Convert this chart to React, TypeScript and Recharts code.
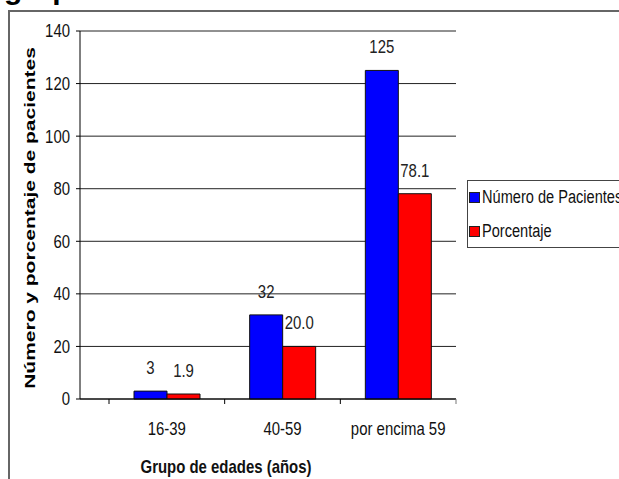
import React from 'react';
import { BarChart, Bar, XAxis, YAxis, CartesianGrid, Legend, LabelList, Label } from 'recharts';

// Age groups and the two series shown per group
const grupos = ['16-39', '40-59', 'por encima 59'];
const pacientes = [3, 32, 125];
const porcentaje = [1.9, 20.0, 78.1];
const yTicks = [0, 20, 40, 60, 80, 100, 120, 140];

const data = grupos.map((grupo, i) => ({
  grupo,
  pacientes: pacientes[i],
  porcentaje: porcentaje[i],
}));

const SANS = "'Liberation Sans', Arial, sans-serif";
const NARROW_SCALE = 0.83;
const FONT_SIZE = 18;

const TICK_SIZE = 5;
const TICK_MARGIN = 18;

// Liberation Sans squeezed horizontally to get a narrow face
function NarrowText(props: any) {
  const { x, y, anchor = 'middle', size = FONT_SIZE, bold = false, dy, fill = '#111', children } = props;
  return (
    <text
      transform={`translate(${x},${y}) scale(${NARROW_SCALE},1)`}
      x={0}
      y={0}
      dy={dy}
      textAnchor={anchor}
      fill={fill}
      style={{ fontFamily: SANS, fontSize: size, fontWeight: bold ? 700 : 400 }}
    >
      {children}
    </text>
  );
}

// Category tick: tick marks sit on band boundaries, label in the band centre
function XTick(props: any) {
  const { x, y, payload, index, visibleTicksCount } = props;
  const half = payload && typeof payload.offset === 'number' ? payload.offset : 0;
  const axisY = y - TICK_SIZE - TICK_MARGIN;
  return (
    <g>
      <line x1={x - half} x2={x - half} y1={axisY} y2={axisY + TICK_SIZE} stroke="#000" />
      {index === visibleTicksCount - 1 && (
        <line x1={x + half} x2={x + half} y1={axisY} y2={axisY + TICK_SIZE} stroke="#777" />
      )}
      <NarrowText x={x} y={y} dy="0.71em">
        {payload.value}
      </NarrowText>
    </g>
  );
}

function YTick(props: any) {
  const { x, y, payload } = props;
  return (
    <NarrowText x={x} y={y} dy="0.355em" anchor="end">
      {payload.value}
    </NarrowText>
  );
}

function YTitle(props: any) {
  const { viewBox } = props;
  const cx = viewBox.x + 20;
  const cy = viewBox.y + viewBox.height / 2 + 3;
  return (
    <text
      transform={`translate(${cx},${cy}) rotate(-90) scale(1,0.7)`}
      x={0}
      y={0}
      dy="0.36em"
      textAnchor="middle"
      fill="#000"
      style={{ fontFamily: SANS, fontWeight: 700, fontSize: 21 }}
    >
      Número y porcentaje de pacientes
    </text>
  );
}

function XTitle(props: any) {
  const { viewBox } = props;
  const cx = viewBox.x + viewBox.width / 2 - 42;
  const by = viewBox.y + 74;
  return (
    <NarrowText x={cx} y={by} size={18} bold>
      Grupo de edades (años)
    </NarrowText>
  );
}

function ValueLabel(props: any) {
  const { x, y, width, value, digits } = props;
  const text = digits ? Number(value).toFixed(digits) : String(value);
  return (
    <NarrowText x={x + width / 2} y={y - 17} fill="#222">
      {text}
    </NarrowText>
  );
}

function LegendBox(props: any) {
  const { payload } = props;
  return (
    <div
      style={{
        border: '1px solid #444',
        width: 170,
        height: 68,
        boxSizing: 'border-box',
        background: '#fff',
        position: 'relative',
      }}
    >
      {(payload || []).map((item: any, i: number) => (
        <div
          key={item.value}
          style={{
            position: 'absolute',
            left: 1,
            top: 3 + i * 34,
            height: 26,
            display: 'flex',
            alignItems: 'center',
            whiteSpace: 'nowrap',
          }}
        >
          <span
            style={{
              display: 'inline-block',
              flexShrink: 0,
              width: 9,
              height: 9,
              background: item.color,
              border: '1px solid #222',
              marginRight: 2,
            }}
          />
          <span
            style={{
              display: 'inline-block',
              transform: 'scaleX(0.81)',
              transformOrigin: 'left center',
              fontFamily: SANS,
              fontSize: FONT_SIZE,
              color: '#111',
            }}
          >
            {item.value}
          </span>
        </div>
      ))}
    </div>
  );
}

export default function App() {
  return (
    <div
      style={{
        position: 'absolute',
        left: 0,
        top: 0,
        width: 619,
        height: 479,
        overflow: 'hidden',
        background: '#fff',
      }}
    >
      <svg width={619} height={20} style={{ position: 'absolute', left: 0, top: 0 }}>
        <text x={4} y={-1} style={{ fontFamily: SANS, fontWeight: 700, fontSize: 30 }} fill="#000">
          grupo de edades
        </text>
      </svg>
      <div
        style={{
          position: 'absolute',
          left: 8,
          top: 10,
          width: 700,
          height: 500,
          borderTop: '2px solid #666',
          borderLeft: '2px solid #666',
        }}
      />
      <div style={{ position: 'absolute', left: 0, top: 0 }}>
        <BarChart
          width={619}
          height={479}
          data={data}
          margin={{ top: 31, right: 163, bottom: 0, left: 10 }}
          barCategoryGap={25}
          barGap={0}
        >
          <CartesianGrid horizontal vertical={false} stroke="#222" strokeWidth={1} />
          <XAxis
            dataKey="grupo"
            height={80}
            padding={{ left: 29, right: 0 }}
            axisLine={{ stroke: '#000' }}
            tickLine={false}
            tickSize={TICK_SIZE}
            tickMargin={TICK_MARGIN}
            tick={<XTick />}
            interval={0}
          >
            <Label content={<XTitle />} />
          </XAxis>
          <YAxis
            width={70}
            domain={[0, 140]}
            ticks={yTicks}
            interval={0}
            axisLine={{ stroke: '#000' }}
            tickLine={{ stroke: '#000' }}
            tickSize={4}
            tickMargin={6}
            tick={<YTick />}
          >
            <Label content={<YTitle />} />
          </YAxis>
          <YAxis
            yAxisId="frame"
            orientation="right"
            width={0}
            domain={[0, 140]}
            tick={false}
            tickLine={false}
            axisLine={{ stroke: '#777' }}
          />
          <Legend
            layout="horizontal"
            align="center"
            verticalAlign="middle"
            wrapperStyle={{ left: 467, top: 180, width: 170 }}
            content={<LegendBox />}
          />
          <Bar
            dataKey="pacientes"
            name="Número de Pacientes"
            fill="#0000ff"
            stroke="#111"
            strokeWidth={1}
            isAnimationActive={false}
          >
            <LabelList dataKey="pacientes" content={<ValueLabel />} />
          </Bar>
          <Bar
            dataKey="porcentaje"
            name="Porcentaje"
            fill="#ff0000"
            stroke="#111"
            strokeWidth={1}
            isAnimationActive={false}
          >
            <LabelList dataKey="porcentaje" content={<ValueLabel digits={1} />} />
          </Bar>
        </BarChart>
      </div>
    </div>
  );
}
